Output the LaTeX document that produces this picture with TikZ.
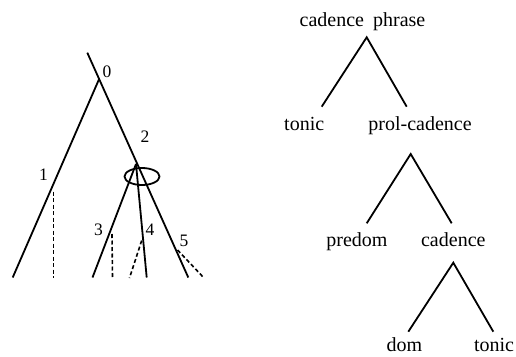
\documentclass[tikz,border=0pt]{standalone}
\usepackage{fontspec}
\setmainfont{Liberation Serif}
\usetikzlibrary{calc,shapes.geometric}
\begin{document}
\begin{tikzpicture}[x=1pt,y=-1pt,
  branch/.style={line width=1.8pt},
  dashbranch/.style={line width=1.6pt, dash pattern=on 4pt off 2.5pt},
  num/.style={font=\fontsize{17.5}{20}\selectfont, inner sep=0pt},
  word/.style={font=\fontsize{20}{24}\selectfont, inner sep=0pt, anchor=base}]
\useasboundingbox (0,0) rectangle (516,356);
% ---------- left tree ----------
\coordinate (top) at (87.3,52.7);
\coordinate (n0) at (99,79.3);
\coordinate (b1) at (12.7,277.5);
\coordinate (n2) at (136,164);
\coordinate (b5) at (188.3,277.5);
\coordinate (b3) at (92.5,277.5);
\coordinate (b4) at (146.7,277.5);
\coordinate (d1t) at (53.3,191.5);
\coordinate (d1b) at (53.3,278);
\coordinate (n3) at (112,234);
\coordinate (d3b) at (112.5,278);
\coordinate (n4) at (141.7,240.5);
\coordinate (d4b) at (129.5,278);
\coordinate (n5) at (177.5,250);
\coordinate (d5b) at (204,278);
\draw[branch] (top) -- (b5);
\draw[branch] (n0) -- (b1);
\draw[branch] (n2) -- (b3);
\draw[branch] (n2) -- (b4);
\draw[dashbranch] (d1t) -- (d1b);
\draw[dashbranch] (n3) -- (d3b);
\draw[dashbranch] (n4) -- (d4b);
\draw[dashbranch] (n5) -- (d5b);
\node[draw, line width=1.8pt, ellipse, minimum width=35pt, minimum height=17pt, inner sep=0pt] (ell) at (142,176.5) {};
\node[num] (l0) at (107,71.5) {0};
\node[num] (l1) at (43.5,175) {1};
\node[num] (l2) at (145,136.5) {2};
\node[num] (l3) at (98.5,230) {3};
\node[num] (l4) at (150,230) {4};
\node[num] (l5) at (184,241) {5};
% ---------- right tree ----------
\node[word] (cp) at (362.5,26.5) {cadence\hspace{4pt} phrase};
\coordinate (a1) at (366.7,37.3);
\coordinate (a1l) at (321.7,106.7);
\coordinate (a1r) at (406.7,106.7);
\node[word] (t1) at (304.2,130.5) {tonic};
\node[word] (pc) at (420,130.5) {prol-cadence};
\coordinate (a2) at (410.7,154);
\coordinate (a2l) at (366.7,223.3);
\coordinate (a2r) at (451.7,223.3);
\node[word] (pd) at (357,246.5) {predom};
\node[word] (cd) at (453.3,246.5) {cadence};
\coordinate (a3) at (453.3,262.7);
\coordinate (a3l) at (408.3,331.7);
\coordinate (a3r) at (493.3,331.7);
\node[word] (dm) at (404.5,351.5) {dom};
\node[word] (t2) at (494,351.5) {tonic};
\draw[branch] (a1l) -- (a1) -- (a1r);
\draw[branch] (a2l) -- (a2) -- (a2r);
\draw[branch] (a3l) -- (a3) -- (a3r);
\end{tikzpicture}
\end{document}
